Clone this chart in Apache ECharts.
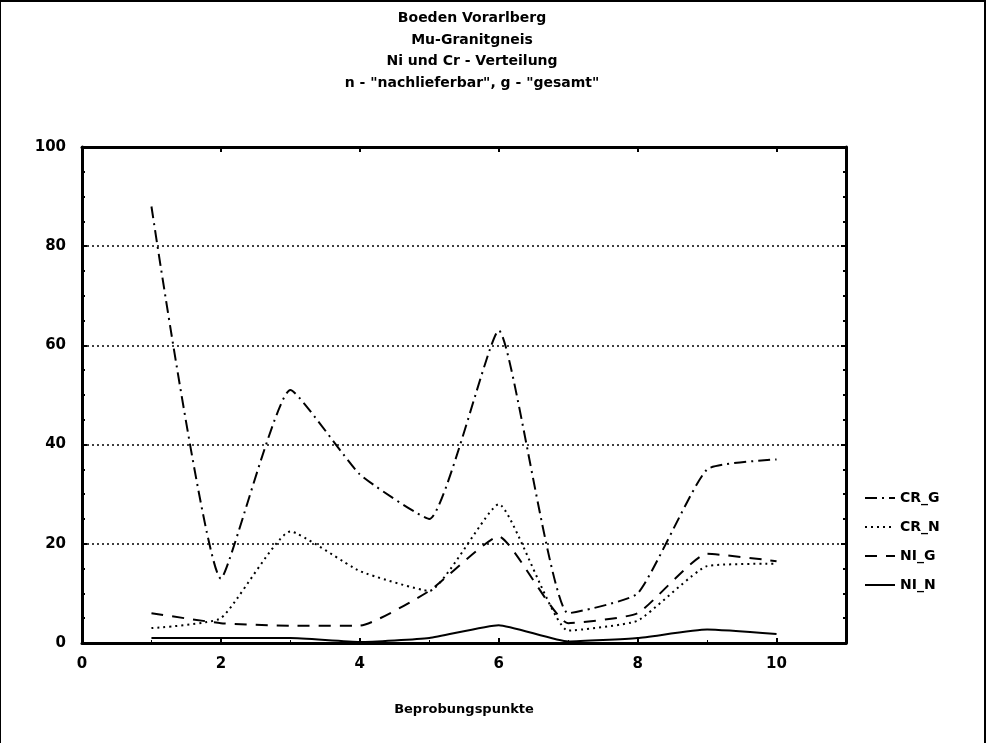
<!DOCTYPE html>
<html>
<head>
<meta charset="utf-8">
<script src="https://cdn.jsdelivr.net/npm/echarts@6/dist/echarts.min.js"></script>
<style>
  html, body { margin: 0; padding: 0; background: #fff; }
  #chart { width: 986px; height: 743px; box-sizing: border-box; border-top: 2px solid #000; border-right: 2px solid #000; border-left: 1px solid #000; }
</style>
</head>
<body>
<div id="chart"></div>
<script>
// Beprobungspunkte 1..10
var points = [1, 2, 3, 4, 5, 6, 7, 8, 9, 10];
var crG = [88, 13, 51, 34, 25, 63, 6, 10, 35, 37];
var crN = [3, 5, 22.5, 14.5, 10.5, 28, 2.5, 4.5, 15.5, 16];
var niG = [6, 4, 3.5, 3.5, 10.5, 21.5, 4, 6, 18, 16.5];
var niN = [1, 1, 1, 0.2, 1, 3.6, 0.3, 1, 2.7, 1.8];
var yTicks = [0, 20, 40, 60, 80, 100];

var titleLines = ['Boeden Vorarlberg', 'Mu-Granitgneis', 'Ni und Cr - Verteilung', 'n - "nachlieferbar", g - "gesamt"'];

function pairs(vals) {
    var res = [];
    for (var i = 0; i < points.length; i++) {
        res.push([points[i], vals[i]]);
    }
    return res;
}

var font = 'DejaVu Sans';

function makeSeries(name, vals, dash) {
    return {
        name: name,
        type: 'line',
        smooth: 0.15,
        symbol: 'none',
        lineStyle: { color: '#000', width: 2, type: dash },
        itemStyle: { color: '#000' },
        data: pairs(vals)
    };
}

// rahmen oben/rechts: zweite achsen ohne beschriftung
var frameTick = { inside: true, length: 5, lineStyle: { color: '#000', width: 2 } };

var chart = echarts.init(document.getElementById('chart'));
var option = {
    animation: false,
    backgroundColor: '#fff',
    title: {
        text: titleLines.join('\n'),
        left: 466,
        top: 1,
        textAlign: 'center',
        textStyle: { fontFamily: font, fontWeight: 'bold', fontSize: 14, lineHeight: 21.5, color: '#000' }
    },
    legend: {
        orient: 'vertical',
        left: 858,
        top: 484,
        itemWidth: 30,
        itemHeight: 10,
        itemGap: 15,
        itemStyle: { opacity: 0 },
        textStyle: { fontFamily: font, fontWeight: 'bold', fontSize: 14, color: '#000' },
        data: ['CR_G', 'CR_N', 'NI_G', 'NI_N']
    },
    grid: { left: 81, right: 138, top: 145, bottom: 100 },
    xAxis: [{
        type: 'value',
        min: 0,
        max: 11,
        interval: 2,
        name: 'Beprobungspunkte',
        nameLocation: 'middle',
        nameGap: 60,
        nameTextStyle: { fontFamily: font, fontWeight: 'bold', fontSize: 13, color: '#000' },
        axisLine: { onZero: false, lineStyle: { color: '#000', width: 3 } },
        axisTick: frameTick,
        minorTick: { show: true, splitNumber: 2, length: 3, lineStyle: { color: '#000' } },
        axisLabel: {
            fontFamily: font, fontWeight: 'bold', fontSize: 15, color: '#000', margin: 14,
            formatter: function (v) { return v > 10 ? '' : String(v); }
        },
        splitLine: { show: false }
    }, {
        type: 'value',
        position: 'top',
        min: 0,
        max: 11,
        interval: 2,
        axisLine: { show: true, onZero: false, lineStyle: { color: '#000', width: 3 } },
        axisTick: frameTick,
        axisLabel: { show: false },
        splitLine: { show: false }
    }],
    yAxis: [{
        type: 'value',
        min: 0,
        max: 100,
        interval: 20,
        axisLine: { show: true, onZero: false, lineStyle: { color: '#000', width: 3 } },
        axisTick: frameTick,
        minorTick: { show: true, splitNumber: 4, length: 3, lineStyle: { color: '#000', width: 2 } },
        axisLabel: {
            fontFamily: font, fontWeight: 'bold', fontSize: 15, color: '#000', margin: 16,
            formatter: function (v) { return yTicks.indexOf(v) >= 0 ? String(v) : ''; }
        },
        splitLine: { show: true, lineStyle: { color: '#000', type: [2, 3], width: 1.5 } }
    }, {
        type: 'value',
        position: 'right',
        min: 0,
        max: 100,
        interval: 20,
        axisLine: { show: true, onZero: false, lineStyle: { color: '#000', width: 3 } },
        axisTick: frameTick,
        minorTick: { show: true, splitNumber: 4, length: 3, lineStyle: { color: '#000', width: 2 } },
        axisLabel: { show: false },
        splitLine: { show: false }
    }],
    series: [
        makeSeries('CR_G', crG, [12, 5, 2, 5]),
        makeSeries('CR_N', crN, [2, 4]),
        makeSeries('NI_G', niG, [12, 9]),
        makeSeries('NI_N', niN, 'solid')
    ]
};
chart.setOption(option);
</script>
</body>
</html>
